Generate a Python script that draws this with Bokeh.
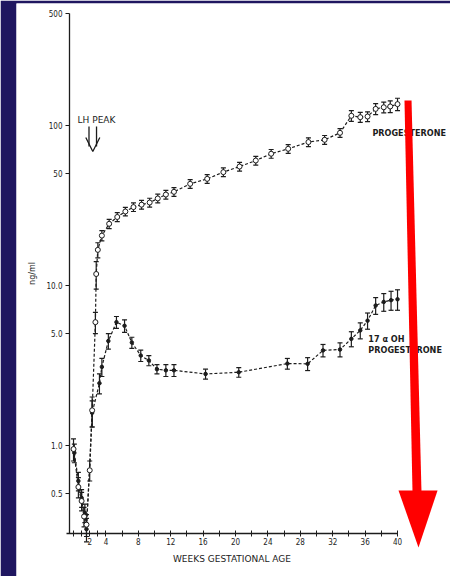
from bokeh.plotting import figure
from bokeh.models import (Range1d, LinearAxis, LogAxis, FixedTicker, ColumnDataSource,
                          Whisker, TeeHead, Label, PolyAnnotation, Arrow, OpenHead)
from bokeh.embed import file_html
from bokeh.resources import INLINE

# ---------------- data ----------------
prog_weeks = [0.0, 0.6, 1.0, 1.3, 1.6, 2.0, 2.3, 2.7, 2.8, 3.0, 3.5, 4.4, 5.4, 6.4, 7.4,
              8.4, 9.4, 10.4, 11.4, 12.4, 14.4, 16.5, 18.5, 20.5, 22.5, 24.4, 26.5,
              29.0, 31.0, 32.9, 34.3, 35.4, 36.3, 37.3, 38.3, 39.1, 40.0]
prog_value = [0.95, 0.55, 0.45, 0.36, 0.32, 0.70, 1.66, 5.9, 11.8, 16.7, 20.5, 24.3, 26.8,
              29.0, 30.9, 32.0, 33.0, 35.0, 37.0, 38.5, 43.2, 46.4, 51.1, 55.4, 60.4, 66.6,
              71.5, 78.8, 81.4, 90.0, 115.0, 112.7, 113.8, 127.0, 130.0, 131.5, 136.0]
prog_error = [0.15, 0.08, 0.06, 0.05, 0.05, 0.10, 0.35, 0.9, 2.3, 1.8, 1.5, 1.6, 1.7,
              1.8, 1.9, 2.0, 2.1, 2.2, 2.3, 2.4, 2.7, 2.9, 3.2, 3.5, 3.8, 4.2,
              4.5, 5.0, 5.2, 5.7, 9.0, 8.0, 8.0, 10.0, 10.0, 11.0, 12.0]

ohp_weeks = [0.1, 0.6, 1.0, 1.4, 1.6, 2.3, 3.2, 3.5, 4.3, 5.3, 6.3, 7.2, 8.3, 9.3,
             10.3, 11.4, 12.4, 16.3, 20.4, 26.4, 28.9, 30.8, 32.9, 34.3, 35.4, 36.3,
             37.3, 38.3, 39.2, 40.0]
ohp_value = [0.9, 0.6, 0.47, 0.38, 0.30, 1.6, 2.45, 3.1, 4.5, 5.9, 5.6, 4.4, 3.65, 3.4,
             3.0, 2.95, 2.95, 2.8, 2.87, 3.25, 3.24, 3.93, 3.98, 4.64, 5.24, 6.03,
             7.5, 7.9, 8.1, 8.2]
ohp_error = [0.12, 0.08, 0.06, 0.05, 0.05, 0.3, 0.35, 0.4, 0.5, 0.5, 0.5, 0.35, 0.3, 0.25,
             0.2, 0.25, 0.25, 0.2, 0.2, 0.25, 0.3, 0.35, 0.4, 0.5, 0.6, 0.7,
             0.9, 1.0, 1.1, 1.2]

x_ticks = [0, 1, 2, 3, 4, 6, 8, 10, 12, 14, 16, 18, 20, 22, 24, 26, 28, 30, 32, 34, 36, 38, 40]
x_labeled = [2, 4, 8, 12, 16, 20, 24, 28, 32, 36, 40]
y_ticks = [0.5, 1, 5, 10, 50, 100, 500]
y_tick_labels = ["0.5", "1.0", "5.0", "10.0", "50", "100", "500"]

# ---------------- styles ----------------
NAVY = "#1f1660"
INK = "#1c1c1c"
FONT = "DejaVu Sans"
NARROW = "Liberation Sans Narrow, DejaVu Sans Condensed, sans-serif"

p = figure(width=450, height=576,
           x_range=Range1d(-7.04, 46.54), y_range=Range1d(0.1518, 578.7),
           y_axis_type="log", x_axis_location=None, y_axis_location=None,
           output_backend="svg", toolbar_location=None,
           min_border_left=16, min_border_top=3, min_border_right=0, min_border_bottom=0,
           background_fill_color="white", border_fill_color=NAVY,
           outline_line_color=None)
p.grid.visible = False

xaxis = LinearAxis(fixed_location=0.2818, bounds=(-0.9, 40),
                   ticker=FixedTicker(ticks=x_ticks),
                   major_label_overrides={t: (str(t) if t in x_labeled else "") for t in x_ticks},
                   axis_label="WEEKS GESTATIONAL AGE")
xaxis.axis_line_color = INK
xaxis.axis_line_width = 1.3
xaxis.major_tick_line_color = INK
xaxis.major_tick_in = 3
xaxis.major_tick_out = 3
xaxis.minor_tick_line_color = None
xaxis.major_label_text_font = NARROW
xaxis.major_label_text_font_size = "8px"
xaxis.major_label_text_color = INK
xaxis.major_label_standoff = 1
xaxis.axis_label_text_font = FONT
xaxis.axis_label_text_font_size = "9px"
xaxis.axis_label_text_font_style = "normal"
xaxis.axis_label_text_color = INK
xaxis.axis_label_standoff = 6
p.add_layout(xaxis, "below")

yaxis = LogAxis(fixed_location=-0.5, bounds=(0.2818, 500),
                ticker=FixedTicker(ticks=y_ticks),
                major_label_overrides=dict(zip(y_ticks, y_tick_labels)),
                axis_label="ng/ml")
yaxis.axis_line_color = INK
yaxis.axis_line_width = 1.3
yaxis.major_tick_line_color = INK
yaxis.major_tick_in = 0
yaxis.major_tick_out = 4
yaxis.minor_tick_line_color = None
yaxis.major_label_text_font = NARROW
yaxis.major_label_text_font_size = "8px"
yaxis.major_label_text_color = INK
yaxis.major_label_standoff = 3
yaxis.axis_label_text_font = FONT
yaxis.axis_label_text_font_size = "8px"
yaxis.axis_label_text_font_style = "normal"
yaxis.axis_label_text_color = INK
yaxis.axis_label_standoff = 6
p.add_layout(yaxis, "left")

# ---------------- series ----------------
prog = ColumnDataSource(dict(x=prog_weeks, y=prog_value,
                             lo=[v - e for v, e in zip(prog_value, prog_error)],
                             hi=[v + e for v, e in zip(prog_value, prog_error)]))
ohp = ColumnDataSource(dict(x=ohp_weeks, y=ohp_value,
                            lo=[v - e for v, e in zip(ohp_value, ohp_error)],
                            hi=[v + e for v, e in zip(ohp_value, ohp_error)]))

for src in (prog, ohp):
    p.line("x", "y", source=src, line_color=INK, line_width=1.2, line_dash="3 2")
    p.add_layout(Whisker(source=src, base="x", upper="hi", lower="lo",
                         line_color=INK, line_width=1.2,
                         upper_head=TeeHead(size=5, line_color=INK, line_width=1.2),
                         lower_head=TeeHead(size=5, line_color=INK, line_width=1.2)))

p.scatter("x", "y", source=ohp, marker="circle", size=3.5, fill_color=INK,
          line_color=INK, line_width=1)
p.scatter("x", "y", source=prog, marker="circle", size=5, fill_color="white",
          line_color=INK, line_width=1)

# ---------------- annotations ----------------
p.add_layout(Label(x=0.5, y=107.5, text="LH PEAK", text_font=FONT, text_font_size="9px",
                   text_color=INK, text_baseline="middle", text_align="left"))
p.add_layout(Label(x=36.9, y=90.4, text="PROGESTERONE", text_font=NARROW,
                   text_font_size="9px", text_font_style="bold", text_color=INK,
                   text_baseline="middle", text_align="left"))
p.add_layout(Label(x=36.4, y=4.66, text="17 \u03b1 OH", text_font=NARROW,
                   text_font_size="9px", text_font_style="bold", text_color=INK,
                   text_baseline="middle", text_align="left"))
p.add_layout(Label(x=36.4, y=3.93, text="PROGESTERONE", text_font=NARROW,
                   text_font_size="9px", text_font_style="bold", text_color=INK,
                   text_baseline="middle", text_align="left"))

# LH peak double arrow
for xs in (1.91, 2.84):
    p.add_layout(Arrow(end=None, x_start=xs, y_start=98.6, x_end=xs, y_end=73.9,
                       line_color=INK, line_width=1.3))
p.add_layout(Arrow(end=OpenHead(size=14, line_color=INK, line_width=1.3),
                   x_start=2.38, y_start=72.0, x_end=2.38, y_end=68.8,
                   line_color=INK, line_width=1.3, line_alpha=0))

# red arrow
p.add_layout(PolyAnnotation(xs=[40.86, 41.73, 42.96, 41.85], ys=[143.3, 143.3, 0.508, 0.508],
                            fill_color="#ff0000", fill_alpha=1, line_color=None))
p.add_layout(PolyAnnotation(xs=[40.12, 44.94, 42.59], ys=[0.5236, 0.5236, 0.2304],
                            fill_color="#ff0000", fill_alpha=1, line_color=None))

open("out.html", "w").write(file_html(p, INLINE))
